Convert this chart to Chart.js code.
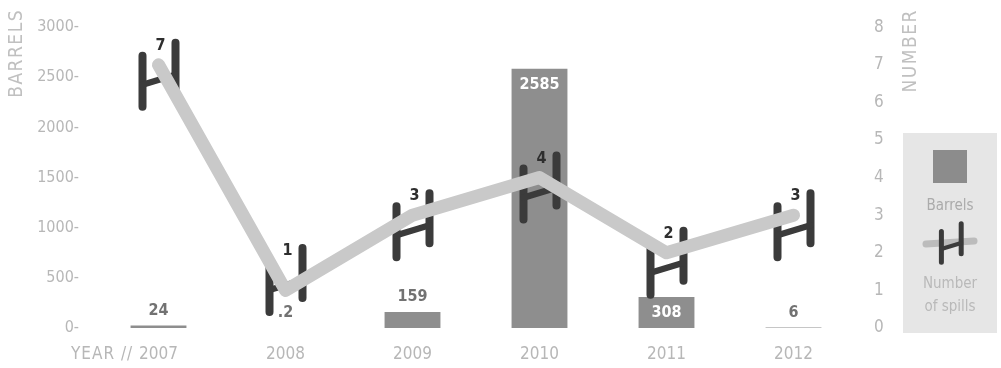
<!DOCTYPE html>
<html>
<head>
<meta charset="utf-8">
<script src="https://cdn.jsdelivr.net/npm/chart.js@4.4.1/dist/chart.umd.min.js"></script>
<style>
  html, body { margin: 0; padding: 0; background: #ffffff; }
  #wrap { width: 1001px; height: 368px; position: relative; }
</style>
</head>
<body>
<div id="wrap"><canvas id="spillChart"></canvas></div>
<script>
// Oil spills per year: volume spilled (barrels) and number of spills
const years = ['2007', '2008', '2009', '2010', '2011', '2012'];
const barrels = [24, 0.2, 159, 2585, 308, 6];
const spills = [7, 1, 3, 4, 2, 3];
const barrelTickValues = [0, 500, 1000, 1500, 2000, 2500, 3000];
const spillTickValues = [0, 1, 2, 3, 4, 5, 6, 7, 8];

const NARROW = '"Liberation Sans Narrow", "DejaVu Sans Condensed", Roboto, sans-serif';
const BOLD = '"DejaVu Sans Condensed", "Liberation Sans Narrow", sans-serif';
const AXIS_GREY = '#b7b7b7';
const BAR_GREY = '#8e8e8e';
const LINE_GREY = '#c9c9c9';
const PIPE = '#3b3b3b';

// Pipe-shaped marker: two uprights joined by a slanted crossbar
function drawPipe(ctx, x, y, s, w) {
  ctx.save();
  ctx.strokeStyle = PIPE;
  ctx.lineCap = 'round';
  ctx.lineWidth = w;
  ctx.beginPath();
  ctx.moveTo(x - 16 * s, y - 9 * s);  ctx.lineTo(x - 16 * s, y + 42 * s);
  ctx.moveTo(x + 17 * s, y - 22 * s); ctx.lineTo(x + 17 * s, y + 28 * s);
  ctx.stroke();
  ctx.lineWidth = w * 0.8;
  ctx.beginPath();
  ctx.moveTo(x - 16 * s, y + 20 * s); ctx.lineTo(x + 17 * s, y + 10 * s);
  ctx.stroke();
  ctx.restore();
}

// Keeps the marker clear of the bar labels along the baseline
function pipeShift(chart, y) {
  const limit = chart.chartArea.bottom - 16;
  return Math.min(0, limit - (y + 42));
}

function fmtBarrels(v) {
  return v < 1 ? String(v).replace(/^0/, '') : String(v);
}

const pipeMarkers = {
  id: 'pipeMarkers',
  beforeDatasetDraw(chart, args) {
    if (args.meta.type !== 'line') return;
    const ctx = chart.ctx;
    args.meta.data.forEach(pt => {
      drawPipe(ctx, pt.x, pt.y + pipeShift(chart, pt.y), 1, 8);
    });
  }
};

const annotations = {
  id: 'annotations',
  afterDatasetsDraw(chart) {
    const ctx = chart.ctx;
    const area = chart.chartArea;
    ctx.save();
    ctx.textAlign = 'center';
    ctx.textBaseline = 'middle';

    // barrel values
    const barMeta = chart.getDatasetMeta(1);
    barMeta.data.forEach((bar, i) => {
      const h = bar.base - bar.y;
      ctx.font = 'bold 16px ' + BOLD;
      if (h > 30) {
        ctx.fillStyle = '#ffffff';
        ctx.fillText(fmtBarrels(barrels[i]), bar.x, bar.y + 16);
      } else {
        ctx.fillStyle = '#727272';
        ctx.fillText(fmtBarrels(barrels[i]), bar.x, bar.y - 15);
      }
    });

    // spill counts
    const lineMeta = chart.getDatasetMeta(0);
    ctx.font = 'bold 16px ' + BOLD;
    ctx.fillStyle = '#2e2e2e';
    lineMeta.data.forEach((pt, i) => {
      ctx.fillText(String(spills[i]), pt.x + 2, pt.y - 19 + pipeShift(chart, pt.y));
    });

    // axis titles
    ctx.fillStyle = '#c0c0c0';
    ctx.font = '19px ' + NARROW;
    ctx.letterSpacing = '1.5px';
    ctx.textAlign = 'right';
    ctx.save();
    ctx.translate(17, 9);
    ctx.rotate(-Math.PI / 2);
    ctx.fillText('BARRELS', 0, 0);
    ctx.restore();
    ctx.save();
    ctx.translate(911, 9);
    ctx.rotate(-Math.PI / 2);
    ctx.fillText('NUMBER', 0, 0);
    ctx.restore();
    ctx.letterSpacing = '0px';

    // "YEAR //" lead-in before the first year
    const xs = chart.scales.x;
    ctx.font = '17px ' + NARROW;
    ctx.fillStyle = AXIS_GREY;
    const x0 = xs.getPixelForValue(0);
    const w0 = ctx.measureText(years[0]).width;
    ctx.textAlign = 'right';
    ctx.letterSpacing = '1px';
    ctx.fillText('YEAR // ', x0 - w0 / 2, area.bottom + 27);
    ctx.letterSpacing = '0px';

    // legend panel
    ctx.fillStyle = '#e6e6e6';
    ctx.fillRect(903, 133, 94, 200);
    ctx.fillStyle = '#8c8c8c';
    ctx.fillRect(933, 150, 34, 33);
    ctx.textAlign = 'center';
    ctx.font = '15px ' + NARROW;
    ctx.fillStyle = '#ababab';
    ctx.fillText('Barrels', 950, 206);
    ctx.strokeStyle = '#bcbcbc';
    ctx.lineWidth = 7;
    ctx.lineCap = 'round';
    ctx.beginPath();
    ctx.moveTo(926, 244);
    ctx.lineTo(974, 241);
    ctx.stroke();
    drawPipe(ctx, 951, 237, 0.6, 5);
    ctx.fillStyle = '#b9b9b9';
    ctx.fillText('Number', 950, 284);
    ctx.fillText('of spills', 950, 307);
    ctx.restore();
  }
};

new Chart(document.getElementById('spillChart'), {
  type: 'bar',
  data: {
    labels: years,
    datasets: [
      {
        type: 'line',
        label: 'Number of spills',
        data: spills,
        yAxisID: 'yR',
        borderColor: LINE_GREY,
        borderWidth: 13,
        borderCapStyle: 'round',
        borderJoinStyle: 'round',
        pointRadius: 0,
        tension: 0,
        order: 0
      },
      {
        type: 'bar',
        label: 'Barrels',
        data: barrels,
        yAxisID: 'yL',
        backgroundColor: BAR_GREY,
        barPercentage: 0.44,
        categoryPercentage: 1,
        order: 1
      }
    ]
  },
  options: {
    responsive: true,
    maintainAspectRatio: false,
    animation: false,
    layout: { padding: { top: 17, bottom: 0, left: 0, right: 0 } },
    plugins: { legend: { display: false }, tooltip: { enabled: false } },
    scales: {
      x: {
        grid: { display: false, drawTicks: false },
        border: { display: false },
        ticks: { color: AXIS_GREY, font: { family: NARROW, size: 17 }, padding: 16, maxRotation: 0 },
        afterFit(s) { s.height = 40; }
      },
      yL: {
        position: 'left',
        min: 0,
        max: 3000,
        afterBuildTicks(s) { s.ticks = barrelTickValues.map(v => ({ value: v })); },
        grid: { display: false, drawTicks: false },
        border: { display: false },
        ticks: {
          color: AXIS_GREY,
          font: { family: NARROW, size: 16 },
          padding: 16,
          callback: v => v + '-'
        },
        afterFit(s) { s.width = 95; }
      },
      yR: {
        position: 'right',
        min: 0,
        max: 8,
        afterBuildTicks(s) { s.ticks = spillTickValues.map(v => ({ value: v })); },
        grid: { display: false, drawTicks: false },
        border: { display: false },
        ticks: {
          color: AXIS_GREY,
          font: { family: NARROW, size: 17 },
          padding: 17
        },
        afterFit(s) { s.width = 144; }
      }
    }
  },
  plugins: [pipeMarkers, annotations]
});
</script>
</body>
</html>
